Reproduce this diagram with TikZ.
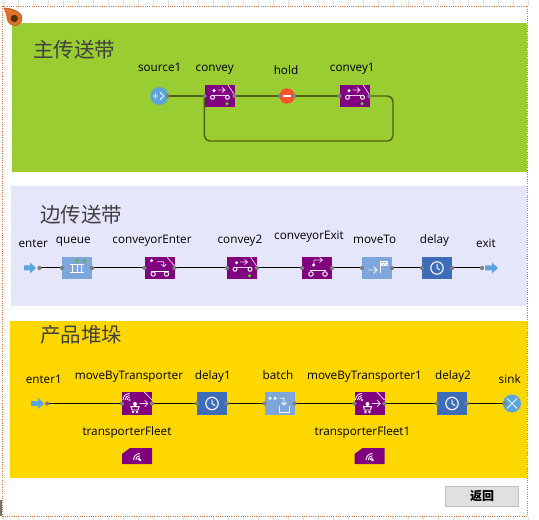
\documentclass[tikz,border=0pt]{standalone}
\usepackage{fontspec}
\setmainfont{Carlito}
\newfontfamily\cjk{Noto Sans CJK SC}
\newfontfamily\lat{Open Sans}
\definecolor{grn}{HTML}{9ACD32}
\definecolor{lav}{HTML}{E6E6FA}
\definecolor{gold}{HTML}{FFD700}
\definecolor{purp}{HTML}{800080}
\definecolor{ltblue}{HTML}{7DA7DB}
\definecolor{dkblue}{HTML}{3D6DB8}
\definecolor{skyb}{HTML}{5AA5DC}
\definecolor{wire}{HTML}{4F6212}
\definecolor{port}{HTML}{7F7F7F}
\definecolor{org}{HTML}{E0702A}
\tikzset{
 lbl/.style={font=\lat\fontsize{8.8}{10}\selectfont,text=black,inner sep=0pt,anchor=base},
 title/.style={font=\cjk\fontsize{15.4}{17}\selectfont,text=black!75,inner sep=0pt,anchor=west},
 blk/.style={minimum width=22.5pt,minimum height=17pt,inner sep=0pt,draw=none},
 pp/.style={blk,fill=purp},
 lb/.style={blk,fill=ltblue},
 db/.style={blk,fill=dkblue},
 wg/.style={draw=wire,line width=1.1pt},
 wb/.style={draw=black,line width=0.75pt},
 ic/.style={draw=white,line width=0.7pt,fill=none},
 ich/.style={draw=white!80!purp,line width=0.6pt},
 portdot/.style={circle,fill=port,minimum size=3.2pt,inner sep=0pt},
 tk/.style={draw=black!12,line width=0.4pt},
}
\newcommand{\conveyicon}[1]{%
 \begin{scope}[shift={(#1)}]
 \fill[white] (-5.5,-5.3) circle (1.7);
 \draw[ich] (-2,-6) -- (5,-6) (2.5,-8.5) -- (5.5,-6) -- (2.5,-3.5);
 \draw[ich] (8.5,-11) -- (14.5,-2);
 \draw[ich] (-7,-1) -- (8,-1);
 \draw[ic] (-7,1.3) circle (2); \draw[ic] (8,1.3) circle (2);
 \fill[green!80!yellow] (7.5,7.7) circle (1.6);
 \end{scope}}
\newcommand{\clockicon}[1]{%
 \begin{scope}[shift={(#1)}]
 \draw[white,line width=0.85pt] (0,0) circle (6.2);
 \draw[white,line width=0.75pt] (0,-4) -- (0,0) -- (3,2);
 \end{scope}}
\newcommand{\mbticon}[1]{%
 \begin{scope}[shift={(#1)}]
 \draw[white,line width=.6pt] (-14,-3) arc (180:270:6.5) (-12,-3) arc (180:270:4.5) (-10,-3) arc (180:270:2.5);
 \fill[white] (-7.5,-3) circle (1.1);
 \fill[white] (-2,1) circle (2);
 \draw[ic] (-6,3.7) -- (2,3.7) -- (1,7) -- (-5,7) -- cycle;
 \fill[white] (-4,9) circle (1.3); \fill[white] (0,9) circle (1.3);
 \draw[ich] (2.3,0.5) -- (10.7,0.5) (7.7,-2.5) -- (10.7,0.5) -- (7.7,3.5);
 \draw[ich] (7.3,-11) -- (15,-3);
 \end{scope}}
\newcommand{\fleeticon}[1]{%
 \begin{scope}[shift={(#1)}]
 \draw[white,line width=.7pt] (-3.5,4) arc (180:270:6.5) (-1.3,4) arc (180:270:4.3) (0.8,4) arc (180:270:2.2);
 \fill[white] (3,4) circle (1.3);
 \end{scope}}
\begin{document}
\begin{tikzpicture}[x=0.75pt,y=-0.75pt]
\useasboundingbox (0,0) rectangle (539,520);
\fill[white] (0,0) rectangle (539,520);
% rulers
\foreach \i in {3,18,...,528}{\draw[tk] (\i,0) -- (\i,6); \draw[tk] (\i,517) -- (\i,520);}
% bands
\fill[grn] (12,23) rectangle (527,172);
\fill[lav] (11,186) rectangle (527,306);
\fill[gold] (10,321) rectangle (527,478);
% frame
\draw[org,line width=0.7pt,densely dotted] (2.5,6) rectangle (527.5,516);
\fill[black!55] (0,500) rectangle (2,516);
% marker
\path[fill=org,draw=org!80!black,line width=.4pt] (4,8) .. controls (12,8) and (22,12) .. (22,18) .. controls (22,28) and (8,28) .. (7,18) .. controls (7,14) and (5,11) .. (4,8);
\fill[black!60!org] (14.3,18.5) circle (3.7);
% titles
\node[title] (t1) at (33,50) {主传送带};
\node[title] (t2) at (40,215) {边传送带};
\node[title] (t3) at (40,335) {产品堆垛};
% row 1
\node[lbl] (l1) at (159.7,71.7) {source1};
\node[lbl] (l2) at (214.7,71.7) {convey};
\node[lbl] (l3) at (286,75) {hold};
\node[lbl] (l4) at (352.3,71.7) {convey1};
\node[circle,fill=skyb,minimum size=13.5pt,inner sep=0pt] (source1) at (159.3,96) {};
\node[pp] (convey) at (219.5,96) {};
\node[circle,fill=red!70!orange!80,minimum size=11.5pt,inner sep=0pt] (hold) at (287,96) {};
\node[pp] (convey1) at (354.5,96) {};
\draw[white,line width=.7pt] (153,96) -- (158,96) (155.5,93.5) -- (155.5,98.5) (160,92.5) -- (164,96) -- (160,99.5);
\fill[white] (283,95) rectangle (291,97.5);
\conveyicon{219.5,96}
\conveyicon{354.5,96}
\coordinate (c1a) at (393,96);
\coordinate (c1b) at (393,141);
\coordinate (c1c) at (204.5,141);
\draw[wg] (source1) -- (convey);
\draw[wg] (convey) -- (hold);
\draw[wg] (hold) -- (convey1);
\draw[wg,rounded corners=4pt] (convey1.east) -- (c1a) -- (c1b) -- (c1c) -- (convey.west);
\foreach \p in {167.3,204.5,234.5,279.3,294.3,339.5,369.5}{\node[portdot] at (\p,96) {};}
% row 2
\node[lbl] (l5) at (33.3,248) {enter};
\node[lbl] (l6) at (73.3,244) {queue};
\node[lbl] (l7) at (152,244) {conveyorEnter};
\node[lbl] (l8) at (240,244) {convey2};
\node[lbl] (l9) at (309,240) {conveyorExit};
\node[lbl] (l10) at (374.7,244) {moveTo};
\node[lbl] (l11) at (434.5,244) {delay};
\node[lbl] (l12) at (486,248) {exit};
\coordinate (enter) at (39.5,268);
\coordinate (exit) at (482,268);
\node[lb] (queue) at (77,268) {};
\node[pp] (cEnter) at (159.5,268) {};
\node[pp] (convey2) at (242,268) {};
\node[pp] (cExit) at (317,268) {};
\node[lb] (moveTo) at (377,268) {};
\node[db] (delay) at (437,268) {};
\draw[wb] (enter) -- (queue) -- (cEnter) -- (convey2) -- (cExit) -- (moveTo) -- (delay) -- (exit);
\fill[skyb] (24,265.5) -- (30,265.5) -- (30,262.5) -- (36,268) -- (30,273.5) -- (30,270.5) -- (24,270.5) -- cycle;
\fill[skyb] (485,265.5) -- (492,265.5) -- (492,262.5) -- (498,268) -- (492,273.5) -- (492,270.5) -- (485,270.5) -- cycle;
\foreach \p in {39.5,62,92,144.5,174.5,227,257,302,332,362,392,422,452,482}{\node[portdot] at (\p,268) {};}
% queue icon
\begin{scope}[shift={(77,268)}]
\fill[green!75!yellow,draw=gray,line width=.4pt] (0,-7) circle (1.7) (7.5,-7) circle (1.7);
\draw[white,line width=.9pt] (-7.5,-3.5) -- (7,-3.5) (-7.5,4.5) -- (7,4.5);
\draw[white,line width=.7pt] (-4.5,-3.5) -- (-4.5,4.5) (0,-3.5) -- (0,4.5) (4.5,-3.5) -- (4.5,4.5);
\end{scope}
% conveyorEnter icon
\begin{scope}[shift={(159.5,268)}]
\fill[white] (-8,-7.3) circle (1.7);
\draw[ich] (-2.3,-6.3) -- (4.3,-6.3) -- (4.3,-1.3) (1.8,-3.8) -- (4.3,-1.3) -- (6.8,-3.8);
\draw[ich] (7.7,-10.7) -- (15,-2);
\draw[ic] (-8.3,3.7) -- (9.3,3.7);
\draw[ic] (-6.3,6) circle (2.2); \draw[ic] (7,6) circle (2.2);
\end{scope}
\conveyicon{242,268}
% conveyorExit icon
\begin{scope}[shift={(317,268)}]
\fill[white] (-3.4,-3) circle (1.7);
\draw[ich] (-3,-3) -- (-3,-8) -- (5,-8) (2.5,-10.5) -- (5.5,-8) -- (2.5,-5.5);
\draw[ic] (-7,2.7) -- (9,2.7);
\draw[ic] (-6,6) circle (2.3); \draw[ic] (8,6) circle (2.3);
\end{scope}
% moveTo icon
\begin{scope}[shift={(377,268)}]
\draw[white!85!ltblue,line width=.6pt] (-9,2) -- (0,2) (-3.5,-1.5) -- (0,2) -- (-3.5,5.5);
\draw[white,line width=.7pt] (3,5) -- (3,-6);
\fill[white] (3,-6.5) rectangle (10.5,-1.5);
\foreach \a/\b in {4/-5.5,7/-5.5,5.5/-3.5,8.5/-3.5}{\fill[ltblue] (\a,\b) rectangle +(1.5,1);}
\end{scope}
\clockicon{437,268}
% row 3
\node[lbl] (l13) at (43.8,383) {enter1};
\node[lbl] (l14) at (129,379) {moveByTransporter};
\node[lbl] (l15) at (212.8,379) {delay1};
\node[lbl] (l16) at (278,379) {batch};
\node[lbl] (l17) at (364.5,379) {moveByTransporter1};
\node[lbl] (l18) at (453,379) {delay2};
\node[lbl] (l19) at (509.7,383) {sink};
\node[lbl] (l20) at (127,435) {transporterFleet};
\node[lbl] (l21) at (362.5,435) {transporterFleet1};
\coordinate (enter1) at (47,403);
\node[pp] (mbt) at (137,403.5) {};
\node[db] (delay1) at (212,403.5) {};
\node[lb] (batch) at (279.5,403.5) {};
\node[pp] (mbt1) at (369.5,403.5) {};
\node[db] (delay2) at (452,403.5) {};
\node[circle,fill=skyb,minimum size=13.5pt,inner sep=0pt] (sink) at (512,403.5) {};
\draw[wb] (enter1 |- mbt) -- (mbt) -- (delay1) -- (batch) -- (mbt1) -- (delay2) -- (sink);
\fill[skyb] (31,401) -- (38,401) -- (38,398) -- (44,403.5) -- (38,409) -- (38,406) -- (31,406) -- cycle;
\foreach \p in {47,122,152,197,227,264.5,294.5,354.5,384.5,437,467,504.5}{\node[portdot] at (\p,403.5) {};}
\mbticon{137,403}
\mbticon{369.5,403}
\clockicon{212,403.5}
\clockicon{452,403.5}
% batch icon
\begin{scope}[shift={(279.5,403)}]
\fill[white] (-9.5,-4.7) circle (1.7) (-4.5,-4.7) circle (1.7);
\draw[white,line width=.7pt] (-0.5,2.5) -- (-0.5,9) -- (9.5,9) -- (9.5,2.5);
\draw[white,line width=.6pt] (0,-4.7) -- (4.5,-4.7) -- (4.5,2) (2,-0.5) -- (4.5,2) -- (7,-0.5);
\end{scope}
\draw[white!85!skyb,line width=.6pt] (507,398.5) -- (517,408.5) (517,398.5) -- (507,408.5);
% fleets
\path[fill=purp] (122,464) -- (122,454) -- (130,448) -- (152,448) -- (152,464) -- cycle;
\path[fill=purp] (354.5,464) -- (354.5,454) -- (362.5,448) -- (384.5,448) -- (384.5,464) -- cycle;
\fleeticon{137,456}
\fleeticon{369.5,456}
% button
\node[draw=black!25,fill=black!12,line width=.8pt,minimum width=55pt,minimum height=15.5pt,inner sep=0pt,font=\cjk\fontsize{9}{10}\selectfont\bfseries] (back) at (482,496.5) {返回};
\end{tikzpicture}
\end{document}
